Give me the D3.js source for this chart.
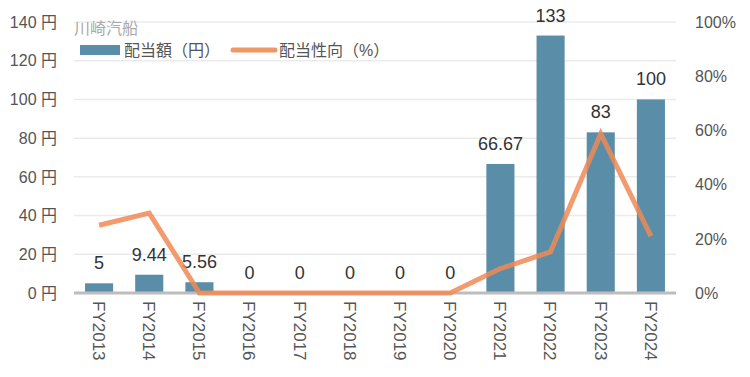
<!DOCTYPE html>
<html>
<head>
<meta charset="utf-8">
<script src="https://cdn.jsdelivr.net/npm/d3@7"></script>
<style>
  body { margin: 0; background: #fff; }
  text { font-family: "Liberation Sans", "Noto Sans CJK JP", sans-serif; }
</style>
</head>
<body>
<div id="chart"></div>
<script>
// data
var years = ["FY2013", "FY2014", "FY2015", "FY2016", "FY2017", "FY2018",
             "FY2019", "FY2020", "FY2021", "FY2022", "FY2023", "FY2024"];
var dividend = [5, 9.44, 5.56, 0, 0, 0, 0, 0, 66.67, 133, 83, 100];
var dividendLabels = ["5", "9.44", "5.56", "0", "0", "0", "0", "0", "66.67", "133", "83", "100"];
var payout = [25, 29.5, 0, 0, 0, 0, 0, 0, 9, 15.2, 58.8, 21];
var leftTicks = [0, 20, 40, 60, 80, 100, 120, 140];
var rightTicks = [0, 20, 40, 60, 80, 100];

var setWidth = 750, setHeight = 377;
var margin = {top: 22, right: 74, bottom: 84, left: 74};
var width = setWidth - margin.left - margin.right;
var height = setHeight - margin.top - margin.bottom;

var svg = d3.select("#chart")
    .append("svg")
    .attr("width", setWidth)
    .attr("height", setHeight)
    .append("g")
    .attr("transform", "translate(" + margin.left + "," + margin.top + ")");

var x = d3.scaleBand().domain(years).range([0, width]).paddingInner(0.44).paddingOuter(0.22);
var y = d3.scaleLinear().domain([0, 140]).range([height, 0]);
var y2 = d3.scaleLinear().domain([0, 100]).range([height, 0]);

// gridlines
svg.selectAll(".grid")
    .data(leftTicks.slice(1))
    .join("line")
    .attr("x1", 0).attr("x2", width)
    .attr("y1", d => y(d)).attr("y2", d => y(d))
    .attr("stroke", "#ebebeb").attr("stroke-width", 1.5);

// left axis labels
svg.selectAll(".ltick")
    .data(leftTicks)
    .join("text")
    .attr("x", -17).attr("y", d => y(d))
    .attr("dy", "0.36em")
    .attr("text-anchor", "end")
    .attr("fill", "#555").style("font-size", "16px")
    .text(d => d + " 円");

// right axis labels
svg.selectAll(".rtick")
    .data(rightTicks)
    .join("text")
    .attr("x", width + 19).attr("y", d => y2(d))
    .attr("dy", "0.36em")
    .attr("fill", "#555").style("font-size", "16px")
    .text(d => d + "%");

// bars
svg.selectAll(".bar")
    .data(dividend)
    .join("rect")
    .attr("x", (d, i) => x(years[i]))
    .attr("width", x.bandwidth())
    .attr("y", d => y(d))
    .attr("height", d => height - y(d))
    .attr("fill", "#5a8ea8");

// bar labels
svg.selectAll(".blabel")
    .data(dividend)
    .join("text")
    .attr("x", (d, i) => x(years[i]) + x.bandwidth() / 2)
    .attr("y", d => y(d) - 14)
    .attr("text-anchor", "middle")
    .attr("fill", "#333").style("font-size", "18px")
    .text((d, i) => dividendLabels[i]);

// x axis baseline
svg.append("line")
    .attr("x1", 0).attr("x2", width)
    .attr("y1", height).attr("y2", height)
    .attr("stroke", "#bdbdbd").attr("stroke-width", 3);

// x labels, rotated
svg.selectAll(".xlabel")
    .data(years)
    .join("text")
    .attr("transform", d => "translate(" + (x(d) + x.bandwidth() / 2) + "," + (height + 8) + ") rotate(90)")
    .attr("dy", "0.36em")
    .attr("fill", "#555").style("font-size", "17px")
    .text(d => d);

// payout line
var line = d3.line()
    .x((d, i) => x(years[i]) + x.bandwidth() / 2)
    .y(d => y2(d));

svg.append("path")
    .datum(payout)
    .attr("d", line)
    .attr("fill", "none")
    .attr("stroke", "#ee8a55")
    .attr("stroke-opacity", 0.85)
    .attr("stroke-width", 5);

// title
svg.append("text")
    .attr("x", 0).attr("y", 12)
    .attr("fill", "#aaa").style("font-size", "16px")
    .text("川崎汽船");

// legend
var lg = svg.append("g").attr("transform", "translate(6,28)");
lg.append("rect").attr("x", 0).attr("y", -5).attr("width", 40).attr("height", 10).attr("fill", "#5a8ea8");
lg.append("text").attr("x", 44).attr("y", 0).attr("dy", "0.36em")
    .attr("fill", "#555").style("font-size", "16px").text("配当額（円）");
lg.append("line").attr("x1", 153).attr("x2", 195).attr("y1", 0).attr("y2", 0)
    .attr("stroke", "#ee9866").attr("stroke-width", 5).attr("stroke-linecap", "round");
lg.append("text").attr("x", 199).attr("y", 0).attr("dy", "0.36em")
    .attr("fill", "#555").style("font-size", "16px").text("配当性向（%）");
</script>
</body>
</html>
